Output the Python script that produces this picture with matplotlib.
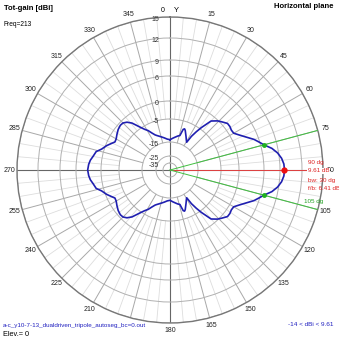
import numpy as np
import matplotlib
matplotlib.use("Agg")
import matplotlib.pyplot as plt

plt.rcParams['font.family'] = ['Liberation Sans', 'DejaVu Sans']

# азимут (градусы, от севера по часовой) и усиление, dBi
az_q1 = [0, 5, 9, 13, 16, 17, 18, 19.5, 21, 25.5, 28.5, 31, 32.5, 34.5, 36.5, 40, 44, 47,
         51, 54, 57, 60, 63, 66, 70, 73, 75, 78, 81, 84, 87, 90]
gain_q1 = [-14.0, -13.3, -12.7, -12.0, -11.6, -10.2, -8.6, -8.2, -8.7, -11.0, -12.3, -13.1,
           -9.8, -7.0, -4.5, -1.4, -0.2, 0.4, 1.2, 1.2, 1.0, 1.1, 2.0, 3.1, 4.9, 6.0, 6.61,
           7.9, 8.8, 9.3, 9.55, 9.61]
az_q2 = [93, 96, 99, 102, 105, 107, 110, 114, 117, 120, 123, 126, 129, 133, 136, 140, 143.5,
         145.5, 147.5, 149, 151.5, 154.5, 159, 160.5, 162, 163, 164, 167, 171, 175, 180]
gain_q2 = [9.55, 9.3, 8.8, 7.9, 6.61, 6.0, 4.9, 3.1, 2.0, 1.1, 1.0, 1.2, 1.2, 0.4, -0.2, -1.4,
           -4.5, -7.0, -9.8, -13.1, -12.3, -11.0, -8.7, -8.2, -8.6, -10.2, -11.6, -12.0, -12.7,
           -13.3, -14.0]
az_q3 = [185, 190, 194, 198, 201, 203, 206, 209, 212, 215, 219, 222, 225, 228, 232, 236, 240,
         243, 246, 249, 253, 256, 260, 263, 266, 270]
gain_q3 = [-13.7, -13.0, -12.4, -11.7, -11.1, -10.6, -9.3, -7.6, -6.3, -4.6, -2.4, -1.3, -0.7,
           -0.6, -0.9, -1.4, -1.9, -2.0, -1.2, -0.3, 0.6, 1.7, 2.2, 2.7, 3.0, 3.2]
az_q4 = [274, 277, 280, 284, 287, 291, 294, 297, 300, 304, 308, 312, 315, 318, 321, 325, 328,
         331, 334, 337, 339, 342, 346, 350, 355, 360]
gain_q4 = [3.0, 2.7, 2.2, 1.7, 0.6, -0.3, -1.2, -2.0, -1.9, -1.4, -0.9, -0.6, -0.7, -1.3, -2.4,
           -4.6, -6.3, -7.6, -9.3, -10.6, -11.1, -11.7, -12.4, -13.0, -13.7, -14.0]

max_az = 90
max_gain = 9.61
bw_az = [75, 105]
bw_gain = 6.61

ring_levels = [-35, -25, -15, -5, 0, 6, 9, 12, 15]
ring_labels = ['-35', '-25', '-15', '-5', '0', '6', '9', '12', '15']
# радиусы колец в пикселях (шкала как у 4nec2)
scale_db = [-40, -35, -25, -15, -5, 0, 6, 9, 12, 15, 40]
scale_px = [0, 7, 14, 28, 51, 69, 94, 110, 132, 153, 253]

az = np.array(az_q1 + az_q2 + az_q3 + az_q4)
gain = np.array(gain_q1 + gain_q2 + gain_q3 + gain_q4)


def fwd(v):
    return np.interp(v, scale_db, scale_px)


def inv(v):
    return np.interp(v, scale_px, scale_db)


fig = plt.figure(figsize=(3.39, 3.39), dpi=100)
ax = fig.add_axes([17 / 339, 16 / 339, 306 / 339, 306 / 339], projection='polar')
ax.set_theta_zero_location('N')
ax.set_theta_direction(-1)
ax.set_rscale('function', functions=(fwd, inv))
ax.set_ylim(-40, 15)

ax.set_yticks(ring_levels)
ax.set_yticklabels([])
ax.yaxis.grid(True, color='#b0b0b0', lw=0.7)
ax.xaxis.grid(False)
ax.spines['polar'].set_color('#777777')
ax.spines['polar'].set_linewidth(1.0)

# спицы
for a in range(0, 360, 5):
    t = np.deg2rad(a)
    if a % 90 == 0:
        ax.plot([t, t], [-40, 15], color='#666666', lw=0.8, zorder=1)
    elif a % 15 == 0:
        ax.plot([t, t], [-15, 15], color='#a8a8a8', lw=0.7, zorder=1)
    else:
        ax.plot([t, t], [-5, 15], color='#dddddd', lw=0.6, zorder=1)

ticks = list(range(15, 360, 15))
ax.set_xticks(np.deg2rad(ticks))
ax.set_xticklabels([str(t) for t in ticks], fontsize=5, color='#222222')
ax.tick_params(axis='x', pad=-5)

for lvl, lbl in zip(ring_levels, ring_labels):
    ax.annotate(lbl, xy=(0, lvl), xytext=(-8, -1.5), textcoords='offset points',
                ha='right', va='center', fontsize=5, color='#333333')

# направления максимума и ширины луча
ax.plot([np.deg2rad(max_az)] * 2, [-40, 15], color='#e04040', lw=0.7, zorder=3)
for b in bw_az:
    ax.plot([np.deg2rad(b)] * 2, [-40, 15], color='#40c040', lw=0.7, zorder=3)

ax.plot(np.deg2rad(az), gain, color='#1f1fb0', lw=1.2, zorder=4)
ax.plot(np.deg2rad(bw_az), [bw_gain] * 2, 'o', color='#20b020', ms=2.5, zorder=5)
ax.plot(np.deg2rad(max_az), max_gain, 'o', color='#ee1010', ms=3.5, zorder=5)


def px(x, y):
    return x / 339, 1 - y / 339


wbox = dict(facecolor='white', edgecolor='none', pad=0.4)

fig.text(*px(4, 8), 'Tot-gain [dBi]', fontsize=5.5, fontweight='bold', va='center')
fig.text(*px(4, 24), 'Freq=213', fontsize=4.8, va='center')
fig.text(*px(334, 7), 'Horizontal plane', fontsize=5.5, fontweight='bold', ha='right', va='center')
fig.text(*px(163, 10), '0', fontsize=5, ha='center', va='center')
fig.text(*px(176, 10), 'Y', fontsize=5.5, ha='center', va='center')

red = '#dd2020'
fig.text(*px(308, 162), '90 dg', fontsize=4.5, color=red, va='center')
fig.text(*px(308, 171), '%.2f dB' % max_gain, fontsize=4.5, color=red, va='center', bbox=wbox)
fig.text(*px(308, 180), 'bw: 30 dg', fontsize=4.5, color=red, va='center')
fig.text(*px(308, 188), 'f/b: 6.41 dB', fontsize=4.5, color=red, va='center')
fig.text(*px(304, 202), '105 dg', fontsize=4.5, color='#20a020', va='center')

fig.text(*px(3, 325), 'a-c_y10-7-13_dualdriven_tripole_autoseg_bc=0.out', fontsize=4.5,
         color='#2020c0', va='center', bbox=wbox)
fig.text(*px(3, 334), 'Elev.= 0', fontsize=5.3, va='center')
fig.text(*px(334, 325), '-14 < dBi < %.2f' % max_gain, fontsize=4.6, color='#2020c0',
         ha='right', va='center')

fig.savefig('out.png', dpi=100)
